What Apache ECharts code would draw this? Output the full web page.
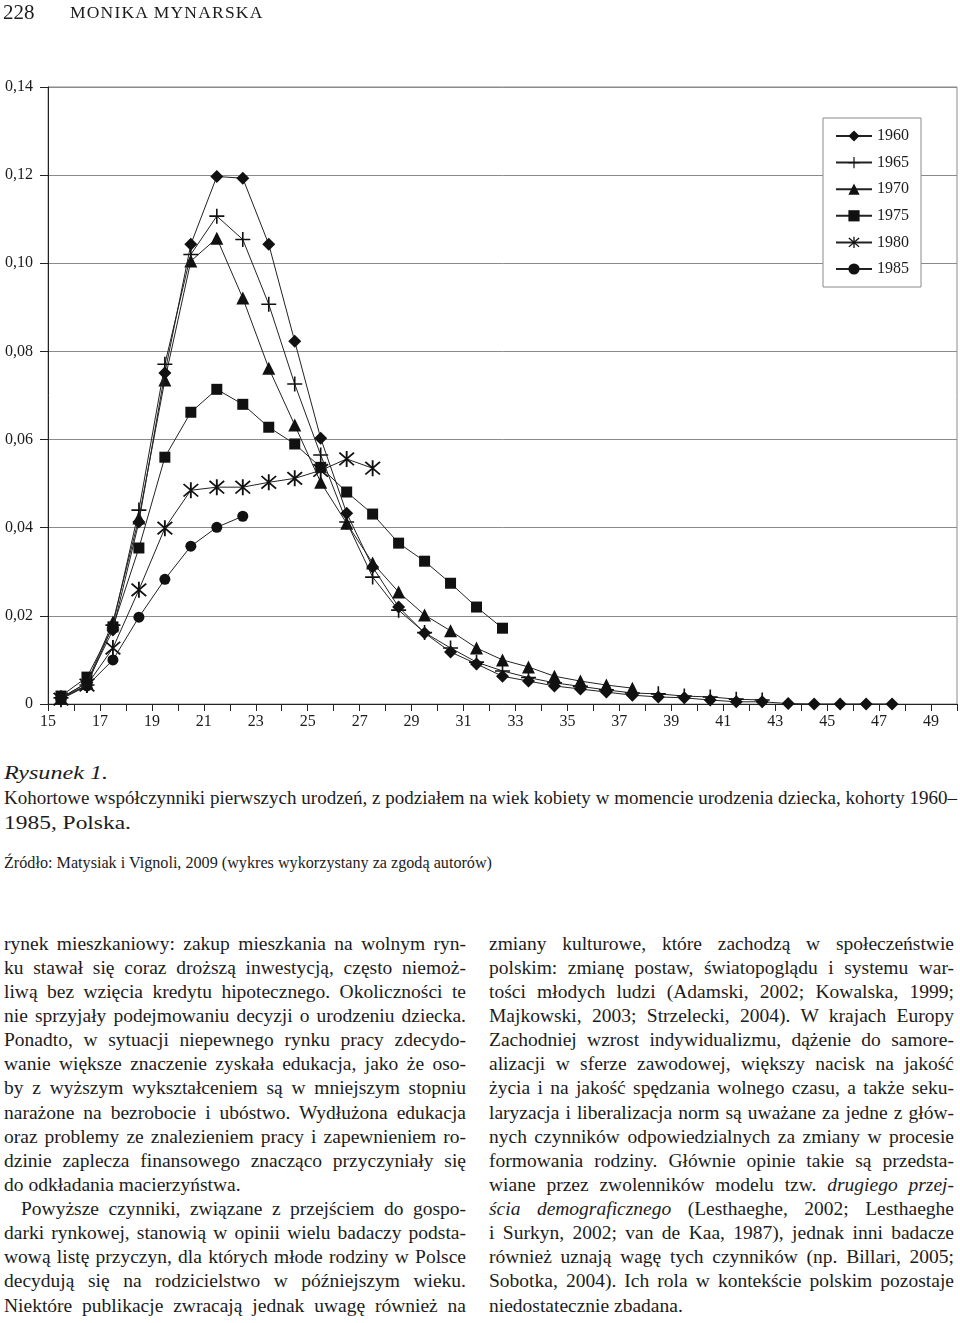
<!DOCTYPE html>
<html lang="pl">
<head>
<meta charset="utf-8">
<title>Rysunek 1</title>
<script src="https://cdn.jsdelivr.net/npm/echarts@6/dist/echarts.min.js"></script>
<style>
  html, body { margin: 0; padding: 0; background: #fff; }
  body {
    width: 960px; height: 1323px; position: relative; overflow: hidden;
    font-family: "Liberation Serif", "Times New Roman", serif; color: #1c1c1c;
  }
  #chart { position: absolute; left: 0; top: 0; width: 960px; height: 750px; }
  .ln { position: absolute; white-space: nowrap; line-height: 1; transform-origin: 0 50%; }
</style>
</head>
<body>
<div id="chart"></div>
<div id="text"></div>
<script>
const ages = [15, 16, 17, 18, 19, 20, 21, 22, 23, 24, 25, 26, 27, 28, 29, 30, 31,
  32, 33, 34, 35, 36, 37, 38, 39, 40, 41, 42, 43, 44, 45, 46, 47];

const c1960 = [0.0014, 0.0048, 0.0168, 0.0413, 0.0751, 0.1043, 0.1197, 0.1193, 0.1043,
  0.0823, 0.0603, 0.0433, 0.0311, 0.022, 0.0161, 0.0118, 0.0091, 0.0063, 0.0052, 0.0041,
  0.0034, 0.0027, 0.002, 0.0016, 0.0014, 0.0009, 0.0005, 0.0005, 0.0001, 0, 0, 0, 0];
const c1965 = [0.0014, 0.0043, 0.0179, 0.044, 0.0771, 0.102, 0.1107, 0.1054, 0.0907,
  0.0726, 0.0565, 0.0413, 0.0288, 0.0213, 0.0162, 0.0127, 0.0095, 0.0075, 0.006, 0.0048,
  0.004, 0.0032, 0.0025, 0.0023, 0.0018, 0.0016, 0.0011, 0.0009];
const c1970 = [0.0014, 0.0048, 0.0186, 0.0422, 0.0735, 0.1005, 0.1057, 0.0921, 0.0762,
  0.0633, 0.0503, 0.041, 0.032, 0.0254, 0.0202, 0.0166, 0.0127, 0.01, 0.0084, 0.0063,
  0.0052, 0.0043, 0.0036];
const c1975 = [0.0018, 0.0061, 0.0175, 0.0354, 0.056, 0.0662, 0.0714, 0.068, 0.0628,
  0.059, 0.0537, 0.0481, 0.0431, 0.0365, 0.0324, 0.0274, 0.022, 0.0172];
const c1980 = [0.0011, 0.0043, 0.0127, 0.0259, 0.0399, 0.0485, 0.0492, 0.0492, 0.0503,
  0.0512, 0.053, 0.0556, 0.0535];
const c1985 = [0.0011, 0.0041, 0.01, 0.0197, 0.0283, 0.0358, 0.0401, 0.0426];

const cohorts = ["1960", "1965", "1970", "1975", "1980", "1985"];
const yTicks = [0, 0.02, 0.04, 0.06, 0.08, 0.1, 0.12, 0.14];

// marker shapes (plus and asterisk drawn as paths)
const plusPath = "path://M6.25,0h1.5v6.25h6.25v1.5h-6.25v6.25h-1.5v-6.25h-6.25v-1.5h6.25z";
const starPath = "path://M6.3,0L7.7,0L7.7,14L6.3,14Z M2,1L13,12L12,13L1,2Z M12,1L13,2L2,13L1,12Z";
const markers = [
  { symbol: "diamond", size: 13 },
  { symbol: plusPath, size: 15 },
  { symbol: "triangle", size: 13 },
  { symbol: "rect", size: 11 },
  { symbol: starPath, size: 16 },
  { symbol: "circle", size: 11 },
];

const FONT = "Liberation Serif";
const INK = "#1c1c1c";

const chart = echarts.init(document.getElementById("chart"));

const seriesValues = [c1960, c1965, c1970, c1975, c1980, c1985];
const series = cohorts.map((name, k) => ({
  name: name,
  type: "line",
  // each age value sits in the middle of its one-year band
  data: seriesValues[k].map((v, i) => [ages[i] + 0.5, v]),
  symbol: markers[k].symbol,
  symbolSize: markers[k].size,
  itemStyle: { color: "#111" },
  lineStyle: { color: "#222", width: 1 },
  z: 10 - k,
}));

chart.setOption({
  animation: false,
  textStyle: { fontFamily: FONT, color: INK },
  grid: {
    left: 48, top: 87, width: 910, height: 617,
    show: true, borderColor: "#8a8a8a", borderWidth: 1,
  },
  legend: {
    data: cohorts,
    orient: "vertical",
    left: 823, top: 118,
    itemWidth: 36, itemHeight: 14, itemGap: 10.6,
    padding: [10, 12, 10, 12],
    backgroundColor: "#fff",
    borderColor: "#8a8a8a", borderWidth: 1,
    textStyle: { fontFamily: FONT, fontSize: 16, color: INK },
  },
  xAxis: {
    type: "value",
    min: 15, max: 50, interval: 1,
    axisLine: { lineStyle: { color: "#222", width: 1 } },
    axisTick: { length: 7, lineStyle: { color: "#222" } },
    splitLine: { show: false },
    axisLabel: {
      margin: 10, fontFamily: FONT, fontSize: 16, color: INK,
      formatter: (v) => (v % 2 === 1 ? String(v) : ""),
    },
  },
  yAxis: {
    type: "value",
    min: yTicks[0], max: yTicks[yTicks.length - 1], interval: 0.02,
    axisLine: { show: true, lineStyle: { color: "#222", width: 1 } },
    axisTick: { show: true, length: 8, lineStyle: { color: "#222" } },
    splitLine: { lineStyle: { color: "#8a8a8a", width: 1 } },
    axisLabel: {
      margin: 15, fontFamily: FONT, fontSize: 16, color: INK,
      formatter: (v) => (v === 0 ? "0" : v.toFixed(2).replace(".", ",")),
    },
  },
  series: series,
});

// page text (scanned book page around the figure)
const leftCol = [
  "rynek mieszkaniowy: zakup mieszkania na wolnym ryn-",
  "ku stawał się coraz droższą inwestycją, często niemoż-",
  "liwą bez wzięcia kredytu hipotecznego. Okoliczności te",
  "nie sprzyjały podejmowaniu decyzji o urodzeniu dziecka.",
  "Ponadto, w sytuacji niepewnego rynku pracy zdecydo-",
  "wanie większe znaczenie zyskała edukacja, jako że oso-",
  "by z wyższym wykształceniem są w mniejszym stopniu",
  "narażone na bezrobocie i ubóstwo. Wydłużona edukacja",
  "oraz problemy ze znalezieniem pracy i zapewnieniem ro-",
  "dzinie zaplecza finansowego znacząco przyczyniały się",
  "do odkładania macierzyństwa.",
  "Powyższe czynniki, związane z przejściem do gospo-",
  "darki rynkowej, stanowią w opinii wielu badaczy podsta-",
  "wową listę przyczyn, dla których młode rodziny w Polsce",
  "decydują się na rodzicielstwo w późniejszym wieku.",
  "Niektóre publikacje zwracają jednak uwagę również na",
];
const rightCol = [
  "zmiany kulturowe, które zachodzą w społeczeństwie",
  "polskim: zmianę postaw, światopoglądu i systemu war-",
  "tości młodych ludzi (Adamski, 2002; Kowalska, 1999;",
  "Majkowski, 2003; Strzelecki, 2004). W krajach Europy",
  "Zachodniej wzrost indywidualizmu, dążenie do samore-",
  "alizacji w sferze zawodowej, większy nacisk na jakość",
  "życia i na jakość spędzania wolnego czasu, a także seku-",
  "laryzacja i liberalizacja norm są uważane za jedne z głów-",
  "nych czynników odpowiedzialnych za zmiany w procesie",
  "formowania rodziny. Głównie opinie takie są przedsta-",
  "wiane przez zwolenników modelu tzw. <i>drugiego przej-</i>",
  "<i>ścia demograficznego</i> (Lesthaeghe, 2002; Lesthaeghe",
  "i Surkyn, 2002; van de Kaa, 1987), jednak inni badacze",
  "również uznają wagę tych czynników (np. Billari, 2005;",
  "Sobotka, 2004). Ich rola w kontekście polskim pozostaje",
  "niedostatecznie zbadana.",
];

const textBox = document.getElementById("text");

function addLine(html, x, baseline, size, opts) {
  const el = document.createElement("div");
  el.className = "ln";
  el.innerHTML = html;
  el.style.left = x + "px";
  el.style.top = (baseline - 0.8375 * size) + "px";
  el.style.fontSize = size + "px";
  if (opts.italic) el.style.fontStyle = "italic";
  if (opts.spacing) el.style.letterSpacing = opts.spacing + "px";
  textBox.appendChild(el);
  const nat = el.getBoundingClientRect().width;
  if (opts.w && opts.justify && nat < opts.w) {
    const gaps = (el.textContent.match(/ /g) || []).length;
    if (gaps) el.style.wordSpacing = (opts.w - nat) / gaps + "px";
  } else if (opts.w && (nat > opts.w || opts.scale)) {
    el.style.transform = "scaleX(" + opts.w / nat + ")";
  }
}

addLine("228", 3, 20, 21, {});
addLine("MONIKA MYNARSKA", 70, 19, 17.5, { spacing: 1.2 });

addLine("Rysunek 1.", 4, 779, 19, { italic: true, w: 104, scale: true });
addLine("Kohortowe współczynniki pierwszych urodzeń, z podziałem na wiek kobiety w momencie urodzenia dziecka, kohorty 1960–",
  4, 804, 19, { w: 953, justify: true });
addLine("1985, Polska.", 4, 829, 19, { w: 127, scale: true });
addLine("Źródło: Matysiak i Vignoli, 2009 (wykres wykorzystany za zgodą autorów)",
  4, 868, 16, { w: 488, scale: true });

const bodySize = 19.5;
const firstBase = 950;
const pitch = 24.13;
leftCol.forEach((t, i) => {
  const indent = i === 11 ? 17 : 0;
  addLine(t, 4 + indent, firstBase + i * pitch, bodySize, { w: 462 - indent, justify: i !== 10 });
});
rightCol.forEach((t, i) => {
  addLine(t, 489, firstBase + i * pitch, bodySize, { w: 465, justify: i !== rightCol.length - 1 });
});
</script>
</body>
</html>
